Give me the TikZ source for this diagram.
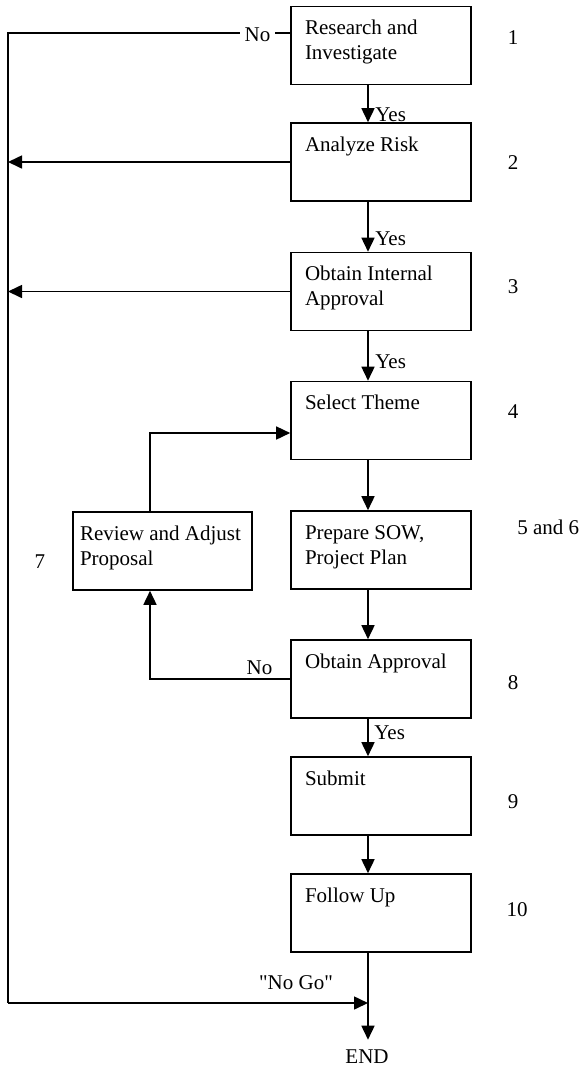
\documentclass[tikz,border=0pt]{standalone}
\usepackage{fontspec}
\setmainfont{Liberation Serif}[Ligatures=TeXOff]
\usetikzlibrary{arrows.meta,calc}
\newcommand{\flowtext}[2][76pt]{\parbox[t][39pt][t]{#1}{\raggedright\rule{0pt}{14pt}#2}}
\begin{document}
\begin{tikzpicture}[x=0.5pt,y=-0.5pt,
  font=\fontsize{10.5}{12.5}\selectfont,
  box/.style={draw, line width=0.8pt, inner xsep=7pt, inner ysep=0pt},
  arr/.style={line width=0.8pt, -{Triangle[length=7pt,width=6.5pt]}},
  ln/.style={line width=0.8pt},
  lbl/.style={inner sep=0pt}]
\useasboundingbox (0,0) rectangle (581,1067);

% main boxes
\node[box] (b1)  at (381,45.5) {\flowtext{Research and\\Investigate}};
\node[box] (b2)  at (381,162)  {\flowtext{Analyze Risk}};
\node[box] (b3)  at (381,291.5){\flowtext{Obtain Internal\\Approval}};
\node[box] (b4)  at (381,420.5){\flowtext{Select Theme}};
\node[box] (b5)  at (381,550)  {\flowtext{Prepare SOW,\\Project Plan}};
\node[box] (b8)  at (381,679)  {\flowtext{Obtain Approval}};
\node[box] (b9)  at (381,796)  {\flowtext{Submit}};
\node[box] (b10) at (381,913)  {\flowtext{Follow Up}};
\node[box, inner xsep=3.5pt] (rv) at (162.5,551) {\flowtext[82.5pt]{Review and Adjust\\Proposal}};
\node[inner xsep=0pt, inner ysep=5pt] (end) at (367,1057) {END};

% helper coordinates
\coordinate (tl) at (8,33);
\coordinate (bl) at (8,1003);
\coordinate (rvb) at ([xshift=-6.25pt]rv.south);
\coordinate (rvt) at ([xshift=-6.25pt]rv.north);
\coordinate (b4in) at ([yshift=-6.25pt]b4.west);

% main column arrows
\draw[arr] ([xshift=-6.5pt]b1.south) -- ([xshift=-6.5pt]b2.north);
\draw[arr] ([xshift=-6.5pt]b2.south) -- ([xshift=-6.5pt]b3.north);
\draw[arr] ([xshift=-6.5pt]b3.south) -- ([xshift=-6.5pt]b4.north);
\draw[arr] ([xshift=-6.5pt]b4.south) -- ([xshift=-6.5pt]b5.north);
\draw[arr] ([xshift=-6.5pt]b5.south) -- ([xshift=-6.5pt]b8.north);
\draw[arr] ([xshift=-6.5pt]b8.south) -- ([xshift=-6.5pt]b9.north);
\draw[arr] ([xshift=-6.5pt]b9.south) -- ([xshift=-6.5pt]b10.north);
\draw[arr] ([xshift=-6.5pt]b10.south) -- ([xshift=-6.5pt]b10.south |- end.north);

% left "No Go" loop
\draw[ln] ([yshift=6.25pt]b1.west) -- (tl) -- (bl);
\draw[arr] (bl) -- ([xshift=-6.5pt]b10.south |- bl);
\draw[arr] (b2.west) -- (b2.west -| tl);
\draw[arr] (b3.west) -- (b3.west -| tl);
\node[lbl, fill=white, inner xsep=2.5pt] (no1) at (257.5,35) {No};

% review loop
\draw[arr] (b8.west) -- (b8.west -| rvb) -- (rvb);
\draw[arr] (rvt) -- (rvt |- b4in) -- (b4in);

% labels
\node[lbl, anchor=base west] (y1) at (375,121) {Yes};
\node[lbl, anchor=base west] (y2) at (375,245) {Yes};
\node[lbl, anchor=base west] (y3) at (375,368) {Yes};
\node[lbl, anchor=base west] (y4) at (374,739) {Yes};
\node[lbl] (no2) at (259.5,668) {No};
\node[lbl] (nogo) at (296,983) {"No Go"};

% step numbers
\node[lbl] (n1) at (513,38) {1};
\node[lbl] (n2) at (513,163) {2};
\node[lbl] (n3) at (513,287) {3};
\node[lbl] (n4) at (513,412) {4};
\node[lbl, anchor=west] (n56) at (517,527) {5 and 6};
\node[lbl] (n7) at (40,562) {7};
\node[lbl] (n8) at (513,683) {8};
\node[lbl] (n9) at (513,802) {9};
\node[lbl] (n10) at (517,910) {10};
\end{tikzpicture}
\end{document}
